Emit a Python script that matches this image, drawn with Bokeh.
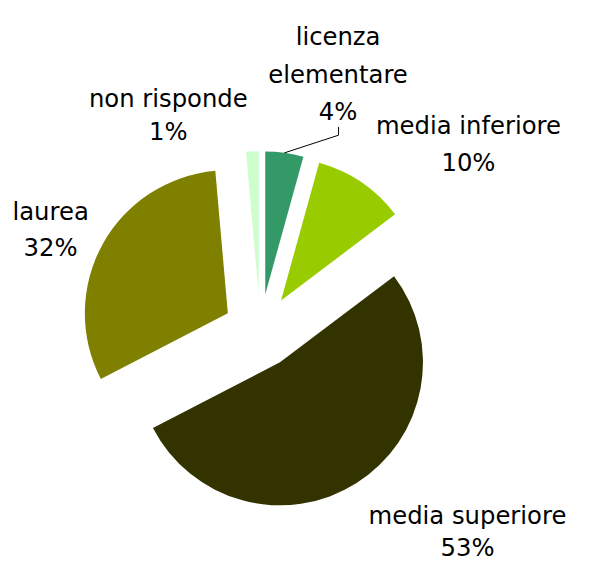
import numpy as np
from bokeh.plotting import figure
from bokeh.models import Range1d, ColumnDataSource
from bokeh.embed import file_html
from bokeh.resources import INLINE
from bokeh.core.properties import value

# ---- data ----
categories = ["licenza\nelementare", "media inferiore", "media superiore", "laurea", "non risponde"]
shares = [4.3, 10.4, 52.7, 31.2, 1.4]
pct_labels = ["4%", "10%", "53%", "32%", "1%"]
colors = ["#339966", "#99CC00", "#333300", "#808000", "#CCFFCC"]

# ---- layout (coordinates in the 589x579 reference frame) ----
REF_W, REF_H = 589, 579
W, H = 573, 563                # figure size that fits the window
CX, CY = 267.0, 340.0          # pie centre (reference coords, y down)
R = 147.0                      # radius
EXPLODE = 38.0                 # explosion distance
# label anchors: centre x, first baseline y (reference coords), line spacing
label_pos = [(347, 37.5, 38.5), (481, 128.5, 38.4), (480, 530.0, 33.0),
             (51.5, 217.5, 36.7), (172.5, 100.7, 34.3)]
FONT = "DejaVu Sans"
FONT_SIZE = "%.1fpx" % (25 * W / REF_W)


def sy(y):
    return REF_H - y


p = figure(width=W, height=H, x_range=Range1d(0, REF_W), y_range=Range1d(0, REF_H),
           output_backend="svg", toolbar_location=None, min_border=0)
p.axis.visible = False
p.grid.visible = False
p.outline_line_color = None
p.background_fill_color = "white"
p.border_fill_color = "white"

tot = float(sum(shares))
cum = np.concatenate([[0.0], np.cumsum(shares)]) / tot * 360.0
st, en = cum[:-1], cum[1:]
mid = np.radians((st + en) / 2.0)
xs = CX + EXPLODE * np.sin(mid)
ys = sy(CY) + EXPLODE * np.cos(mid)
src = ColumnDataSource(dict(
    x=xs, y=ys,
    s=np.radians(90.0 - en), e=np.radians(90.0 - st),
    c=colors,
))
p.wedge(x="x", y="y", radius=R, start_angle="s", end_angle="e", direction="anticlock",
        fill_color="c", line_color=None, source=src)

# labels
tx, ty, tt = [], [], []
for cat, pct, (lx, ly, sp) in zip(categories, pct_labels, label_pos):
    lines = cat.split("\n") + [pct]
    for i, ln in enumerate(lines):
        tx.append(lx)
        ty.append(sy(ly + i * sp))
        tt.append(ln)
p.text(x=tx, y=ty, text=tt, text_font=value(FONT), text_font_size=FONT_SIZE,
       text_align="center", text_baseline="alphabetic", text_color="black")

# leader line for licenza elementare
m0 = mid[0]
ox = xs[0] + R * np.sin(m0)
oy = ys[0] + R * np.cos(m0)
p.line(x=[ox, 347.5, 347.5], y=[oy, sy(138.5), sy(130)], line_color="black", line_width=1)

open("out.html", "w").write(file_html(p, INLINE))
